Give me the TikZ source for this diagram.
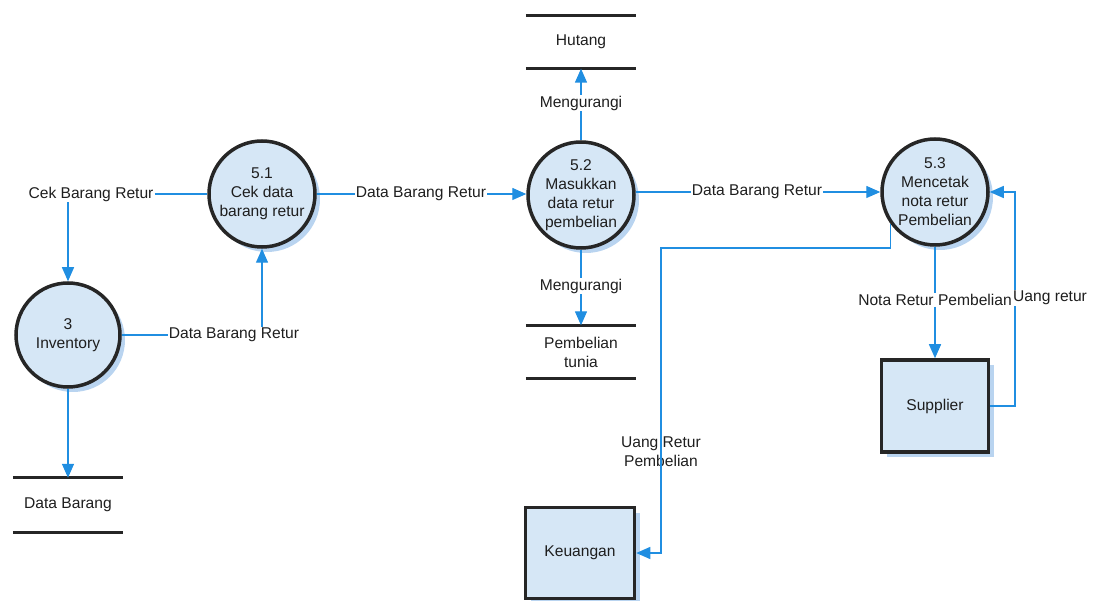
\documentclass[tikz,border=0pt]{standalone}
\usepackage{fontspec}
\setmainfont{Liberation Sans}
\usetikzlibrary{arrows.meta,calc,shadows}
\definecolor{flowblue}{RGB}{32,142,225}
\definecolor{procfill}{RGB}{214,231,246}
\definecolor{shadowblue}{RGB}{185,212,240}
\definecolor{edgegray}{RGB}{38,38,38}
\definecolor{txt}{RGB}{30,30,30}
\newcommand\dfdfont{\fontsize{15.6}{19}\selectfont}
\tikzset{
  proc/.style={circle, draw=edgegray, line width=3.5pt, fill=procfill,
    minimum size=106pt, inner sep=0pt, align=center, font=\dfdfont, text=txt,
    drop shadow={shadow xshift=5pt, shadow yshift=-5pt, opacity=1, fill=shadowblue}},
  ext/.style={rectangle, draw=edgegray, line width=3.5pt, fill=procfill,
    minimum width=107pt, minimum height=92pt, inner sep=0pt, font=\dfdfont, text=txt,
    drop shadow={shadow xshift=5pt, shadow yshift=-5pt, opacity=1, fill=shadowblue}},
  store/.style={rectangle, minimum width=110pt, minimum height=53pt, inner sep=0pt,
    align=center, font=\dfdfont, text=txt},
  storeline/.style={draw=edgegray, line width=3pt},
  lbl/.style={inner sep=1pt, font=\dfdfont, text=txt, align=center},
  flow/.style={draw=flowblue, line width=1.4pt},
  arr/.style={flow, -{Triangle[length=14pt,width=12pt]}},
}
\begin{document}
\begin{tikzpicture}[x=1pt,y=-1pt]
\useasboundingbox (0,0) rectangle (1103,601);
% processes
\node[proc] (p51) at (262,194) {5.1\\Cek data\\barang retur};
\node[proc, minimum size=104pt] (p3) at (68,335) {3\\Inventory};
\node[proc] (p52) at (581,195) {5.2\\Masukkan\\data retur\\pembelian};
\node[proc] (p53) at (935,192) {5.3\\Mencetak\\nota retur\\Pembelian};
% external entities
\node[ext] (sup) at (935,406) {Supplier};
\node[ext, minimum width=109pt, minimum height=91pt] (keu) at (580,553) {Keuangan};
% data stores
\node[store] (hut) at (581,42) {Hutang};
\node[store] (pbt) at (581,352) {Pembelian\\tunia};
\node[store, minimum height=54pt] (dbr) at (68,505) {Data Barang};
\foreach \s in {hut,pbt,dbr}{
  \draw[storeline] (\s.north west) -- (\s.north east);
  \draw[storeline] (\s.south west) -- (\s.south east);
}
% labels
\node[lbl] (l1) at (91,194) {Cek Barang Retur};
\node[lbl] (l2) at (234,335) {Data Barang Retur};
\node[lbl] (l3) at (421,194) {Data Barang Retur};
\node[lbl] (l4) at (757,192) {Data Barang Retur};
\node[lbl] (l5) at (581,103) {Mengurangi};
\node[lbl] (l6) at (581,286) {Mengurangi};
\node[lbl] (l7) at (935,300) {Nota Retur Pembelian};
\node[lbl] (l9) at (661,452) {Uang Retur\\Pembelian};
\coordinate (ur) at (1015,192);
\coordinate (c2) at (661,248);
% flows
\draw[flow] (l1.east) -- (l1.east -| p51.west);
\draw[arr] (p3.north |- l1.south) -- (p3.north);
\draw[flow] (p3.east |- l2.west) -- (l2.west);
\draw[arr] (p51.south |- l2.north) -- (p51.south);
\draw[flow] (p51.east |- l3.west) -- (l3.west);
\draw[arr] (l3.east) -- (l3.east -| p52.west);
\draw[flow] (p52.east |- l4.west) -- (l4.west);
\draw[arr] (l4.east) -- (l4.east -| p53.west);
\draw[flow] (p52.north) -- (l5.south);
\draw[arr] (l5.north) -- (hut.south);
\draw[flow] (p52.south) -- (l6.north);
\draw[arr] (l6.south) -- (pbt.north);
\draw[flow] (p53.south) -- (l7.north);
\draw[arr] (l7.south) -- (sup.north);
\draw[arr] (sup.east) -| (ur) -- (p53.east);
\draw[arr] (p53.-144) |- (c2) |- (keu.east);
\draw[arr] (p3.south) -- (dbr.north);
\node[lbl, anchor=west, fill=white] (l8) at (1012,298) {Uang retur};
\end{tikzpicture}
\end{document}
